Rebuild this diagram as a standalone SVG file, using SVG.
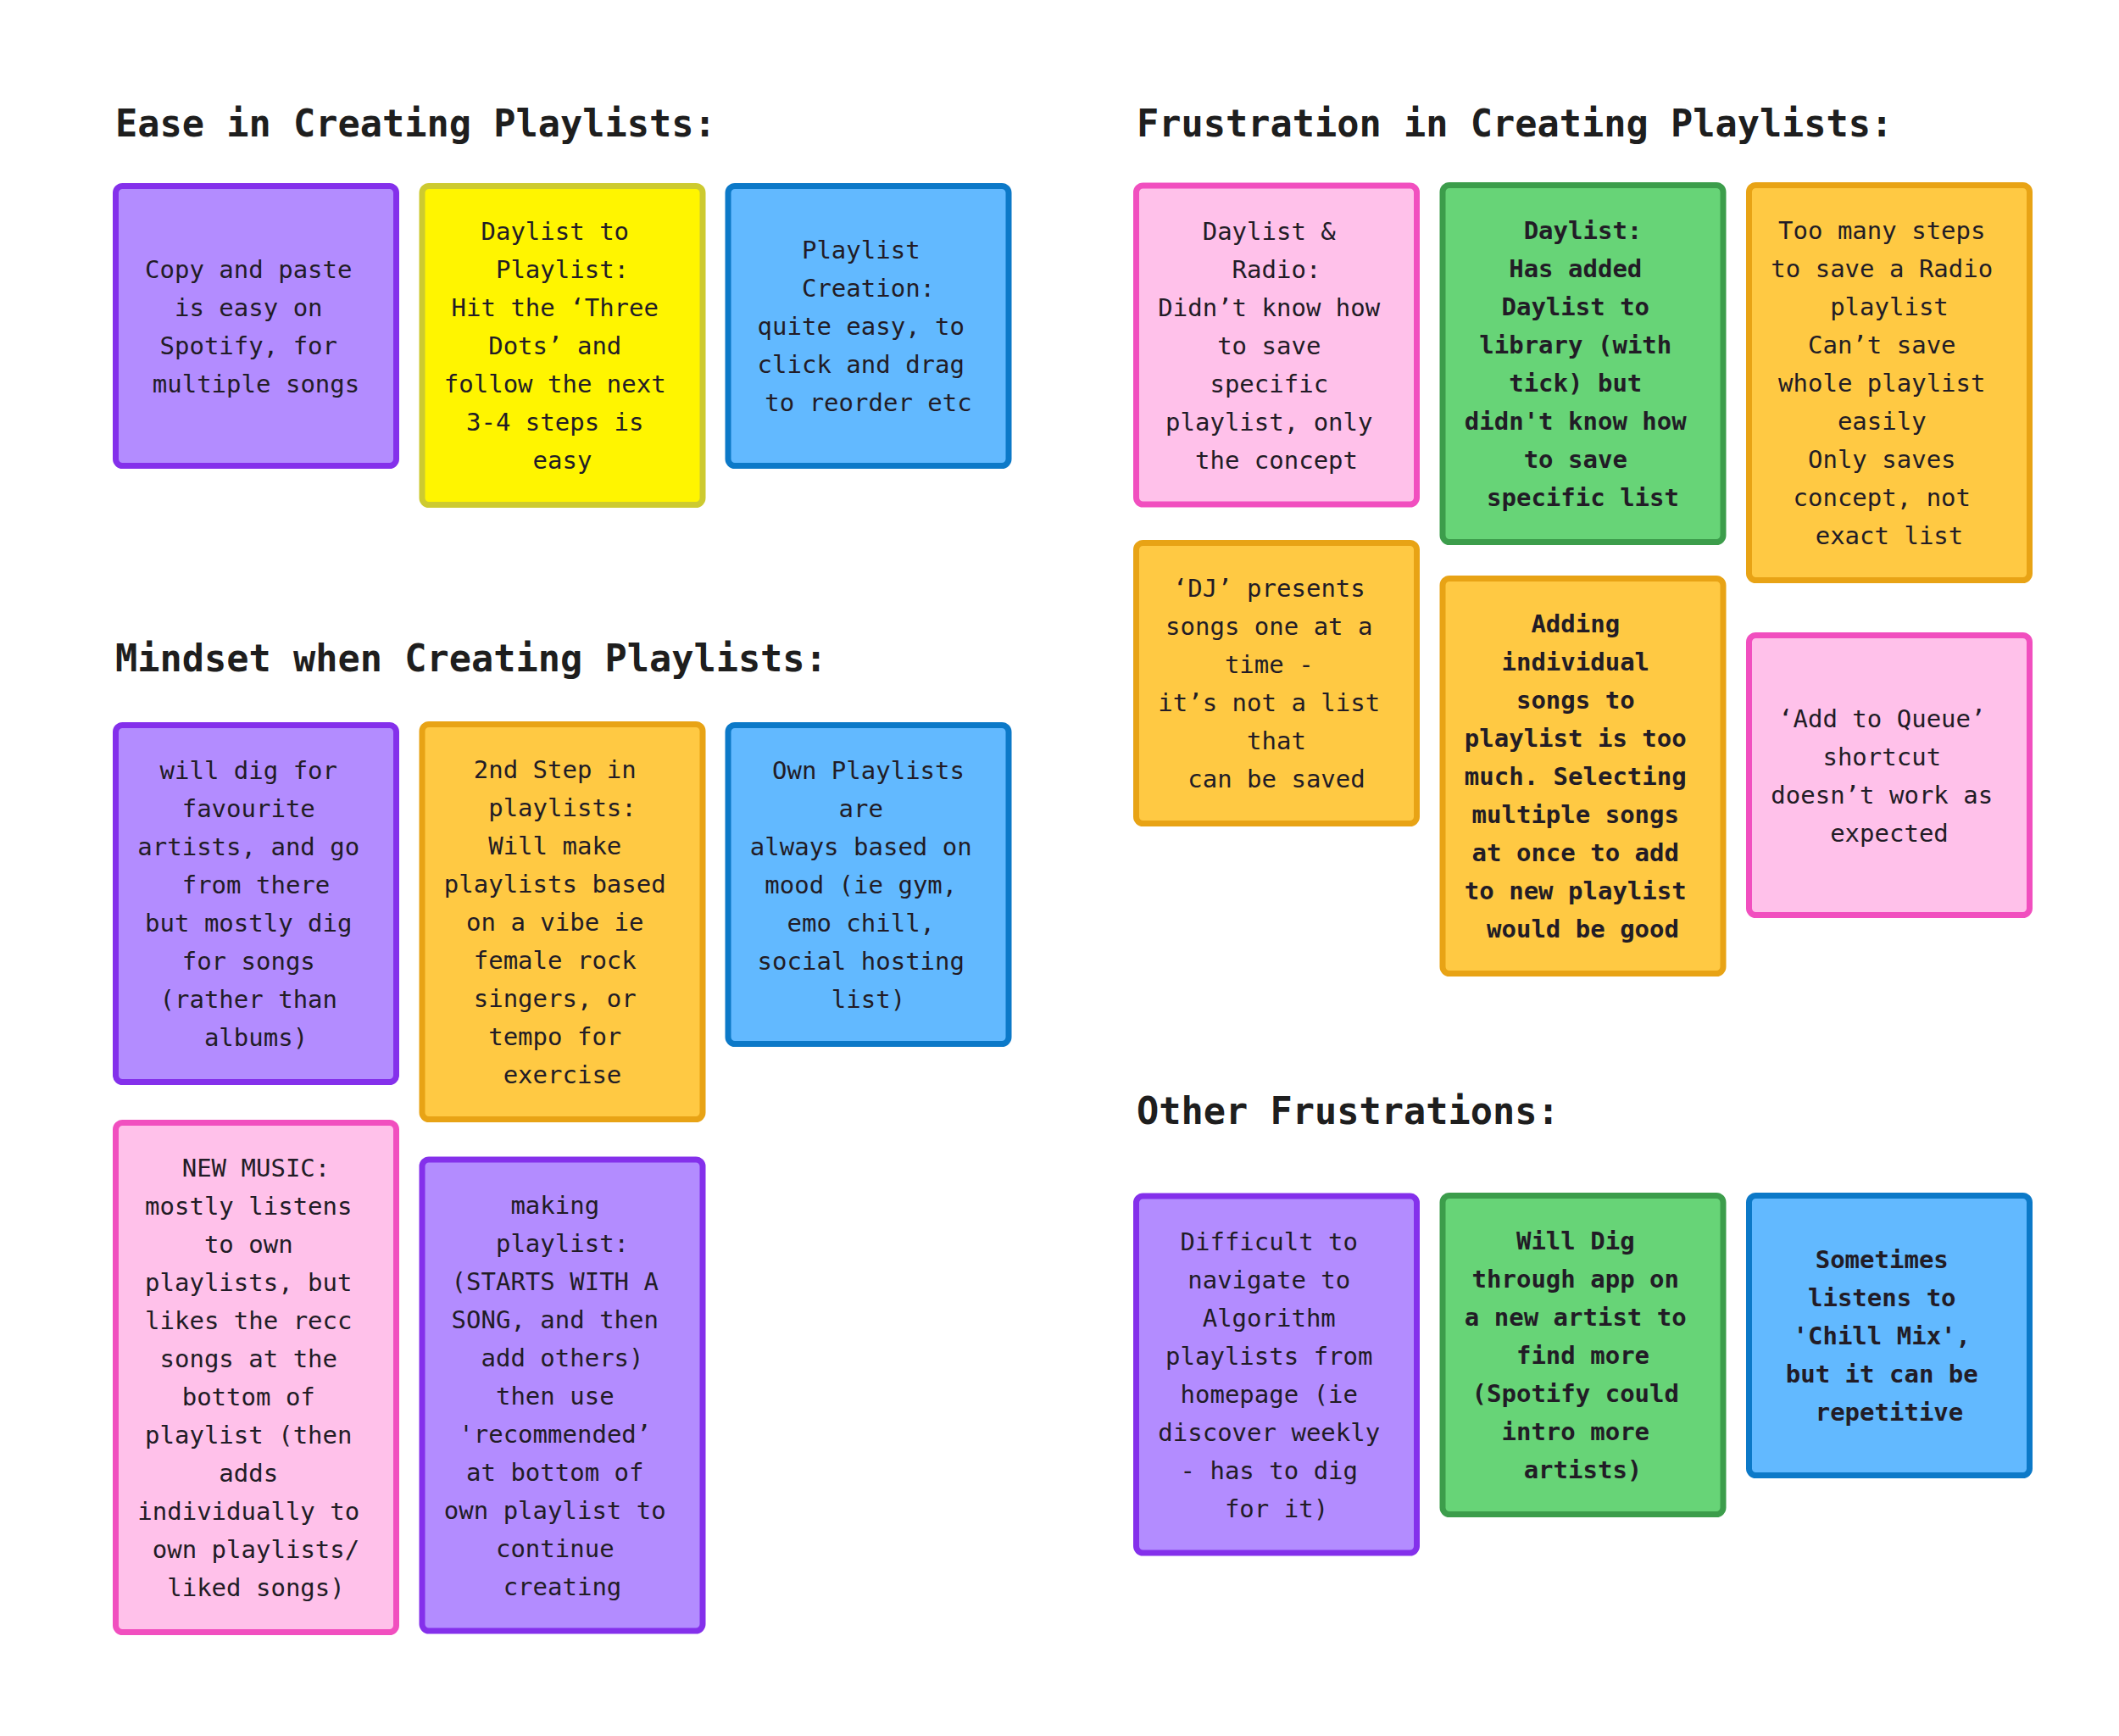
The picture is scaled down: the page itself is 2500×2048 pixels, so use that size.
<svg xmlns="http://www.w3.org/2000/svg" width="2500" height="2048" viewBox="0 0 2500 2048">
<style>
.h{font-family:"DejaVu Sans Mono","Liberation Mono",monospace;font-size:43.6px;font-weight:bold;fill:#1e1e1e}
.t{font-family:"DejaVu Sans Mono","Liberation Mono",monospace;font-size:29px;fill:#221c26;text-anchor:middle}
.b{font-weight:bold}
rect{stroke-width:7}
.pu{fill:#b38cff;stroke:#8430eb}
.ye{fill:#fff500;stroke:#cdca30}
.bl{fill:#62b9ff;stroke:#0c79c8}
.pk{fill:#ffc1ea;stroke:#f14fbf}
.gr{fill:#67d477;stroke:#3c9d4b}
.or{fill:#ffc943;stroke:#e8a315}
</style>
<rect x="0" y="0" width="2500" height="2048" fill="#ffffff" stroke="none"/>
<g id="headings">
<text class="h" x="136" y="161">Ease in Creating Playlists:</text>
<text class="h" x="1341" y="161">Frustration in Creating Playlists:</text>
<text class="h" x="136" y="792">Mindset when Creating Playlists:</text>
<text class="h" x="1341" y="1326">Other Frustrations:</text>
</g>
<g id="connectors"></g>

<g id="ease-1">
<rect class="pu" x="136.5" y="219.5" width="331" height="330" rx="8"/>
<text class="t"><tspan x="302" y="327.5">Copy and paste&#160;</tspan><tspan x="302" y="372.5">is easy on&#160;</tspan><tspan x="302" y="417.5">Spotify, for&#160;</tspan><tspan x="302" y="462.5">multiple songs</tspan></text>
</g>
<g id="ease-2">
<rect class="ye" x="498" y="219.5" width="331" height="376" rx="8"/>
<text class="t"><tspan x="663.5" y="283">Daylist to&#160;</tspan><tspan x="663.5" y="328">Playlist:</tspan><tspan x="663.5" y="373">Hit the ‘Three&#160;</tspan><tspan x="663.5" y="418">Dots’ and&#160;</tspan><tspan x="663.5" y="463">follow the next&#160;</tspan><tspan x="663.5" y="508">3-4 steps is&#160;</tspan><tspan x="663.5" y="553">easy</tspan></text>
</g>
<g id="ease-3">
<rect class="bl" x="859" y="219.5" width="331" height="330" rx="8"/>
<text class="t"><tspan x="1024.5" y="305">Playlist&#160;</tspan><tspan x="1024.5" y="350">Creation:</tspan><tspan x="1024.5" y="395">quite easy, to&#160;</tspan><tspan x="1024.5" y="440">click and drag&#160;</tspan><tspan x="1024.5" y="485">to reorder etc</tspan></text>
</g>

<g id="frus-1">
<rect class="pk" x="1340.5" y="219" width="331" height="376" rx="8"/>
<text class="t"><tspan x="1506" y="282.5">Daylist &amp;&#160;</tspan><tspan x="1506" y="327.5">Radio:</tspan><tspan x="1506" y="372.5">Didn’t know how&#160;</tspan><tspan x="1506" y="417.5">to save&#160;</tspan><tspan x="1506" y="462.5">specific&#160;</tspan><tspan x="1506" y="507.5">playlist, only&#160;</tspan><tspan x="1506" y="552.5">the concept</tspan></text>
</g>
<g id="frus-2">
<rect class="gr" x="1702" y="218.5" width="331" height="421" rx="8"/>
<text class="t b"><tspan x="1867.5" y="282">Daylist:</tspan><tspan x="1867.5" y="327">Has added&#160;</tspan><tspan x="1867.5" y="372">Daylist to&#160;</tspan><tspan x="1867.5" y="417">library (with&#160;</tspan><tspan x="1867.5" y="462">tick) but&#160;</tspan><tspan x="1867.5" y="507">didn't know how&#160;</tspan><tspan x="1867.5" y="552">to save&#160;</tspan><tspan x="1867.5" y="597">specific list</tspan></text>
</g>
<g id="frus-3">
<rect class="or" x="2063.5" y="218.5" width="331" height="466" rx="8"/>
<text class="t"><tspan x="2229" y="282">Too many steps&#160;</tspan><tspan x="2229" y="327">to save a Radio&#160;</tspan><tspan x="2229" y="372">playlist</tspan><tspan x="2229" y="417">Can’t save&#160;</tspan><tspan x="2229" y="462">whole playlist&#160;</tspan><tspan x="2229" y="507">easily&#160;</tspan><tspan x="2229" y="552">Only saves&#160;</tspan><tspan x="2229" y="597">concept, not&#160;</tspan><tspan x="2229" y="642">exact list</tspan></text>
</g>
<g id="frus-4">
<rect class="or" x="1340.5" y="640.5" width="331" height="331" rx="8"/>
<text class="t"><tspan x="1506" y="704">‘DJ’ presents&#160;</tspan><tspan x="1506" y="749">songs one at a&#160;</tspan><tspan x="1506" y="794">time -&#160;</tspan><tspan x="1506" y="839">it’s not a list&#160;</tspan><tspan x="1506" y="884">that</tspan><tspan x="1506" y="929">can be saved</tspan></text>
</g>
<g id="frus-5">
<rect class="or" x="1702" y="682.5" width="331" height="466" rx="8"/>
<text class="t b"><tspan x="1867.5" y="746">Adding&#160;</tspan><tspan x="1867.5" y="791">individual&#160;</tspan><tspan x="1867.5" y="836">songs to&#160;</tspan><tspan x="1867.5" y="881">playlist is too&#160;</tspan><tspan x="1867.5" y="926">much. Selecting&#160;</tspan><tspan x="1867.5" y="971">multiple songs&#160;</tspan><tspan x="1867.5" y="1016">at once to add&#160;</tspan><tspan x="1867.5" y="1061">to new playlist&#160;</tspan><tspan x="1867.5" y="1106">would be good</tspan></text>
</g>
<g id="frus-6">
<rect class="pk" x="2063.5" y="749.5" width="331" height="330" rx="8"/>
<text class="t"><tspan x="2229" y="857.5">‘Add to Queue’&#160;</tspan><tspan x="2229" y="902.5">shortcut&#160;</tspan><tspan x="2229" y="947.5">doesn’t work as&#160;</tspan><tspan x="2229" y="992.5">expected</tspan></text>
</g>

<g id="mind-1">
<rect class="pu" x="136.5" y="855.5" width="331" height="421" rx="8"/>
<text class="t"><tspan x="302" y="919">will dig for&#160;</tspan><tspan x="302" y="964">favourite&#160;</tspan><tspan x="302" y="1009">artists, and go&#160;</tspan><tspan x="302" y="1054">from there</tspan><tspan x="302" y="1099">but mostly dig&#160;</tspan><tspan x="302" y="1144">for songs&#160;</tspan><tspan x="302" y="1189">(rather than&#160;</tspan><tspan x="302" y="1234">albums)</tspan></text>
</g>
<g id="mind-2">
<rect class="or" x="498" y="854.5" width="331" height="466" rx="8"/>
<text class="t"><tspan x="663.5" y="918">2nd Step in&#160;</tspan><tspan x="663.5" y="963">playlists:</tspan><tspan x="663.5" y="1008">Will make&#160;</tspan><tspan x="663.5" y="1053">playlists based&#160;</tspan><tspan x="663.5" y="1098">on a vibe ie&#160;</tspan><tspan x="663.5" y="1143">female rock&#160;</tspan><tspan x="663.5" y="1188">singers, or&#160;</tspan><tspan x="663.5" y="1233">tempo for&#160;</tspan><tspan x="663.5" y="1278">exercise</tspan></text>
</g>
<g id="mind-3">
<rect class="bl" x="859" y="855.5" width="331" height="376" rx="8"/>
<text class="t"><tspan x="1024.5" y="919">Own Playlists</tspan><tspan x="1024.5" y="964">are&#160;</tspan><tspan x="1024.5" y="1009">always based on&#160;</tspan><tspan x="1024.5" y="1054">mood (ie gym,&#160;</tspan><tspan x="1024.5" y="1099">emo chill,&#160;</tspan><tspan x="1024.5" y="1144">social hosting&#160;</tspan><tspan x="1024.5" y="1189">list)</tspan></text>
</g>
<g id="mind-4">
<rect class="pk" x="136.5" y="1324.5" width="331" height="601" rx="8"/>
<text class="t"><tspan x="302" y="1388">NEW MUSIC:</tspan><tspan x="302" y="1433">mostly listens&#160;</tspan><tspan x="302" y="1478">to own&#160;</tspan><tspan x="302" y="1523">playlists, but&#160;</tspan><tspan x="302" y="1568">likes the recc&#160;</tspan><tspan x="302" y="1613">songs at the&#160;</tspan><tspan x="302" y="1658">bottom of&#160;</tspan><tspan x="302" y="1703">playlist (then&#160;</tspan><tspan x="302" y="1748">adds&#160;</tspan><tspan x="302" y="1793">individually to&#160;</tspan><tspan x="302" y="1838">own playlists/</tspan><tspan x="302" y="1883">liked songs)</tspan></text>
</g>
<g id="mind-5">
<rect class="pu" x="498" y="1368" width="331" height="556" rx="8"/>
<text class="t"><tspan x="663.5" y="1431.5">making&#160;</tspan><tspan x="663.5" y="1476.5">playlist:</tspan><tspan x="663.5" y="1521.5">(STARTS WITH A&#160;</tspan><tspan x="663.5" y="1566.5">SONG, and then&#160;</tspan><tspan x="663.5" y="1611.5">add others)</tspan><tspan x="663.5" y="1656.5">then use&#160;</tspan><tspan x="663.5" y="1701.5">'recommended’&#160;</tspan><tspan x="663.5" y="1746.5">at bottom of&#160;</tspan><tspan x="663.5" y="1791.5">own playlist to&#160;</tspan><tspan x="663.5" y="1836.5">continue&#160;</tspan><tspan x="663.5" y="1881.5">creating</tspan></text>
</g>

<g id="other-1">
<rect class="pu" x="1340.5" y="1411" width="331" height="421" rx="8"/>
<text class="t"><tspan x="1506" y="1474.5">Difficult to&#160;</tspan><tspan x="1506" y="1519.5">navigate to&#160;</tspan><tspan x="1506" y="1564.5">Algorithm&#160;</tspan><tspan x="1506" y="1609.5">playlists from&#160;</tspan><tspan x="1506" y="1654.5">homepage (ie&#160;</tspan><tspan x="1506" y="1699.5">discover weekly&#160;</tspan><tspan x="1506" y="1744.5">- has to dig&#160;</tspan><tspan x="1506" y="1789.5">for it)</tspan></text>
</g>
<g id="other-2">
<rect class="gr" x="1702" y="1410.5" width="331" height="376" rx="8"/>
<text class="t b"><tspan x="1867.5" y="1474">Will Dig&#160;</tspan><tspan x="1867.5" y="1519">through app on&#160;</tspan><tspan x="1867.5" y="1564">a new artist to&#160;</tspan><tspan x="1867.5" y="1609">find more</tspan><tspan x="1867.5" y="1654">(Spotify could&#160;</tspan><tspan x="1867.5" y="1699">intro more&#160;</tspan><tspan x="1867.5" y="1744">artists)</tspan></text>
</g>
<g id="other-3">
<rect class="bl" x="2063.5" y="1410.5" width="331" height="330" rx="8"/>
<text class="t b"><tspan x="2229" y="1496">Sometimes&#160;</tspan><tspan x="2229" y="1541">listens to&#160;</tspan><tspan x="2229" y="1586">'Chill Mix',&#160;</tspan><tspan x="2229" y="1631">but it can be&#160;</tspan><tspan x="2229" y="1676">repetitive</tspan></text>
</g>
</svg>
